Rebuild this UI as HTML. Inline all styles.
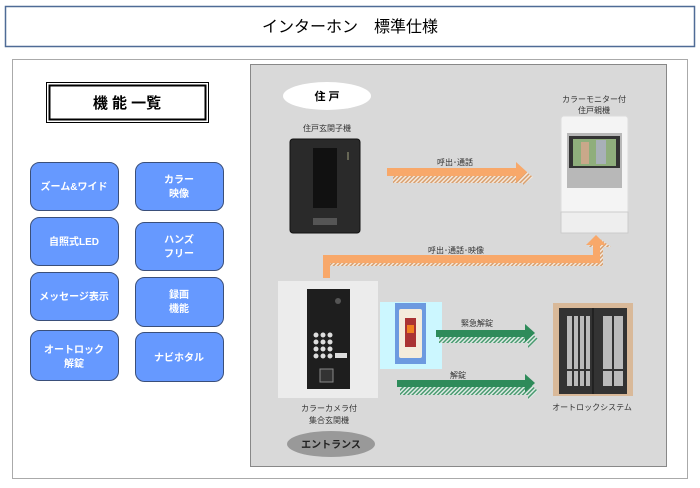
<!DOCTYPE html>
<html><head><meta charset="utf-8"><style>
body{margin:0;width:700px;height:483px;background:#fff;overflow:hidden}
svg text{font-family:"Liberation Sans","Noto Sans CJK JP",sans-serif}
</style></head><body>
<svg width="700" height="483" viewBox="0 0 700 483" xmlns="http://www.w3.org/2000/svg">
<defs>
<pattern id="h" width="3" height="3" patternUnits="userSpaceOnUse" patternTransform="rotate(45)">
<rect width="3" height="3" fill="#f4e8dc"/><rect width="1.5" height="3" fill="#d8a070"/></pattern>
<pattern id="hg" width="3" height="3" patternUnits="userSpaceOnUse" patternTransform="rotate(45)">
<rect width="3" height="3" fill="#e0ece6"/><rect width="1.5" height="3" fill="#4a9a70"/></pattern>
</defs>
<rect x="5.5" y="6.5" width="689" height="40" fill="#fff" stroke="#4f6b96" stroke-width="1.5"/>
<text x="350" y="32" font-size="16" text-anchor="middle" fill="#000">インターホン　標準仕様</text>
<rect x="12.5" y="59.5" width="675" height="419" fill="#fff" stroke="#aaa"/>
<rect x="250.5" y="64.5" width="416" height="402" fill="#d9d9d9" stroke="#888"/>
<rect x="46.5" y="82.5" width="162" height="40" fill="#fff" stroke="#000" stroke-width="1"/>
<rect x="49.5" y="85.5" width="156" height="34" fill="none" stroke="#000" stroke-width="2"/>
<text x="127" y="108" font-size="15" font-weight="bold" text-anchor="middle">機 能 一覧</text>
<g fill="#6699ff" stroke="#3a4f7a" stroke-width="1">
<rect x="30.5" y="162.5" width="88" height="48" rx="9"/>
<rect x="30.5" y="217.5" width="88" height="48" rx="9"/>
<rect x="30.5" y="272.5" width="88" height="48" rx="9"/>
<rect x="30.5" y="330.5" width="88" height="50" rx="9"/>
<rect x="135.5" y="162.5" width="88" height="48" rx="9"/>
<rect x="135.5" y="222.5" width="88" height="48" rx="9"/>
<rect x="135.5" y="277.5" width="88" height="49" rx="9"/>
<rect x="135.5" y="332.5" width="88" height="49" rx="9"/>
</g>
<g fill="#fff" font-size="10" font-weight="bold" text-anchor="middle">
<text x="74" y="190">ズーム&amp;ワイド</text>
<text x="74" y="245">自照式LED</text>
<text x="74" y="300">メッセージ表示</text>
<text x="74" y="353">オートロック</text><text x="74" y="367">解錠</text>
<text x="179" y="183">カラー</text><text x="179" y="197">映像</text>
<text x="179" y="243">ハンズ</text><text x="179" y="257">フリー</text>
<text x="179" y="298">録画</text><text x="179" y="312">機能</text>
<text x="179" y="361">ナビホタル</text>
</g>
<ellipse cx="327" cy="96" rx="44" ry="14" fill="#fff"/>
<text x="327" y="100" font-size="11" font-weight="bold" text-anchor="middle">住 戸</text>
<text x="327" y="131" font-size="8" text-anchor="middle" fill="#333">住戸玄関子機</text>
<rect x="290" y="139" width="70" height="94" rx="3" fill="#2a2a2a" stroke="#111"/>
<rect x="313" y="148" width="24" height="60" fill="#111"/>
<rect x="313" y="218" width="24" height="7" fill="#555"/>
<rect x="347" y="152" width="2" height="8" fill="#665"/>
<!-- arrow 1 -->
<polygon points="390,171 520,171 520,166 530,174 520,182 520,180 390,180" fill="url(#h)" transform="translate(3,3)"/>
<polygon points="387,168 516,168 516,162 527,172 516,182 516,176 387,176" fill="#f8a86a"/>
<text x="455" y="165" font-size="8" text-anchor="middle" fill="#333">呼出･通話</text>
<!-- monitor -->
<text x="594" y="102" font-size="8" text-anchor="middle" fill="#333">カラーモニター付</text>
<text x="594" y="113" font-size="8" text-anchor="middle" fill="#333">住戸親機</text>
<rect x="561" y="116" width="67" height="117" rx="3" fill="#f4f4f4" stroke="#ddd"/>
<rect x="567" y="133" width="55" height="55" fill="#b8b8b8"/>
<rect x="569" y="136" width="51" height="32" fill="#333"/>
<rect x="573" y="139" width="43" height="27" fill="#8fae7c"/>
<rect x="581" y="142" width="8" height="22" fill="#c9a88a"/>
<rect x="596" y="140" width="10" height="24" fill="#a8b0b8"/>
<rect x="561" y="212" width="67" height="21" fill="#eee" stroke="#ccc"/>
<!-- L arrow -->
<path d="M326,281 V266 H603 V247 H611 L599,238 L588,247 H596 V259 H326 Z" fill="url(#h)"/>
<path d="M323,278 V255 H593 V245 H586 L596,235 L606,245 H600 V263 H330 V278 Z" fill="#f8a86a"/>
<text x="456" y="253" font-size="8" text-anchor="middle" fill="#333">呼出･通話･映像</text>
<!-- entrance device -->
<rect x="278" y="281" width="100" height="117" fill="#ececec"/>
<rect x="307" y="289" width="43" height="100" fill="#1e1e1e"/>
<circle cx="338" cy="301" r="3" fill="#555"/>
<g fill="#ddd"><circle cx="316" cy="335" r="2.5"/><circle cx="323" cy="335" r="2.5"/><circle cx="330" cy="335" r="2.5"/>
<circle cx="316" cy="342" r="2.5"/><circle cx="323" cy="342" r="2.5"/><circle cx="330" cy="342" r="2.5"/>
<circle cx="316" cy="349" r="2.5"/><circle cx="323" cy="349" r="2.5"/><circle cx="330" cy="349" r="2.5"/>
<circle cx="316" cy="356" r="2.5"/><circle cx="323" cy="356" r="2.5"/><circle cx="330" cy="356" r="2.5"/>
<rect x="335" y="353" width="12" height="5"/></g>
<rect x="320" y="369" width="13" height="13" fill="#333" stroke="#888"/>
<text x="329" y="411" font-size="8" text-anchor="middle" fill="#333">カラーカメラ付</text>
<text x="329" y="423" font-size="8" text-anchor="middle" fill="#333">集合玄関機</text>
<ellipse cx="331" cy="444" rx="44" ry="13" fill="#999"/>
<text x="331" y="448" font-size="10" font-weight="bold" text-anchor="middle" fill="#222">エントランス</text>
<!-- switch -->
<rect x="380" y="302" width="62" height="67" fill="#ccf7ff"/>
<rect x="395" y="303" width="31" height="61" fill="#6c9ae0"/>
<rect x="399" y="309" width="23" height="49" rx="2" fill="#f4ecdc"/>
<rect x="405" y="318" width="11" height="29" fill="#a33"/>
<rect x="407" y="325" width="7" height="8" fill="#f08020"/>
<!-- green arrows -->
<polygon points="439,334 528,334 528,330 538,339 528,348 528,343 439,343" fill="url(#hg)"/>
<polygon points="436,330 525,330 525,324 535,333 525,342 525,337 436,337" fill="#2e8b5a"/>
<text x="477" y="326" font-size="8" text-anchor="middle" fill="#333">緊急解錠</text>
<polygon points="400,386 528,386 528,382 538,391 528,400 528,395 400,395" fill="url(#hg)"/>
<polygon points="397,380 525,380 525,374 535,383 525,392 525,387 397,387" fill="#2e8b5a"/>
<text x="458" y="378" font-size="8" text-anchor="middle" fill="#333">解錠</text>
<!-- door -->
<rect x="553" y="303" width="80" height="93" fill="#d9b999"/>
<rect x="559" y="308" width="68" height="86" fill="#333"/>
<rect x="567" y="316" width="23" height="70" fill="#bbb"/>
<rect x="603" y="316" width="20" height="70" fill="#bbb"/>
<g stroke="#333" stroke-width="2"><line x1="573" y1="316" x2="573" y2="386"/><line x1="579" y1="316" x2="579" y2="386"/><line x1="585" y1="316" x2="585" y2="386"/><line x1="613" y1="316" x2="613" y2="386"/><line x1="567" y1="370" x2="590" y2="370"/><line x1="603" y1="370" x2="623" y2="370"/></g>
<line x1="593" y1="308" x2="593" y2="394" stroke="#111"/>
<text x="592" y="410" font-size="8" text-anchor="middle" fill="#333">オートロックシステム</text>
</svg>
</body></html>
